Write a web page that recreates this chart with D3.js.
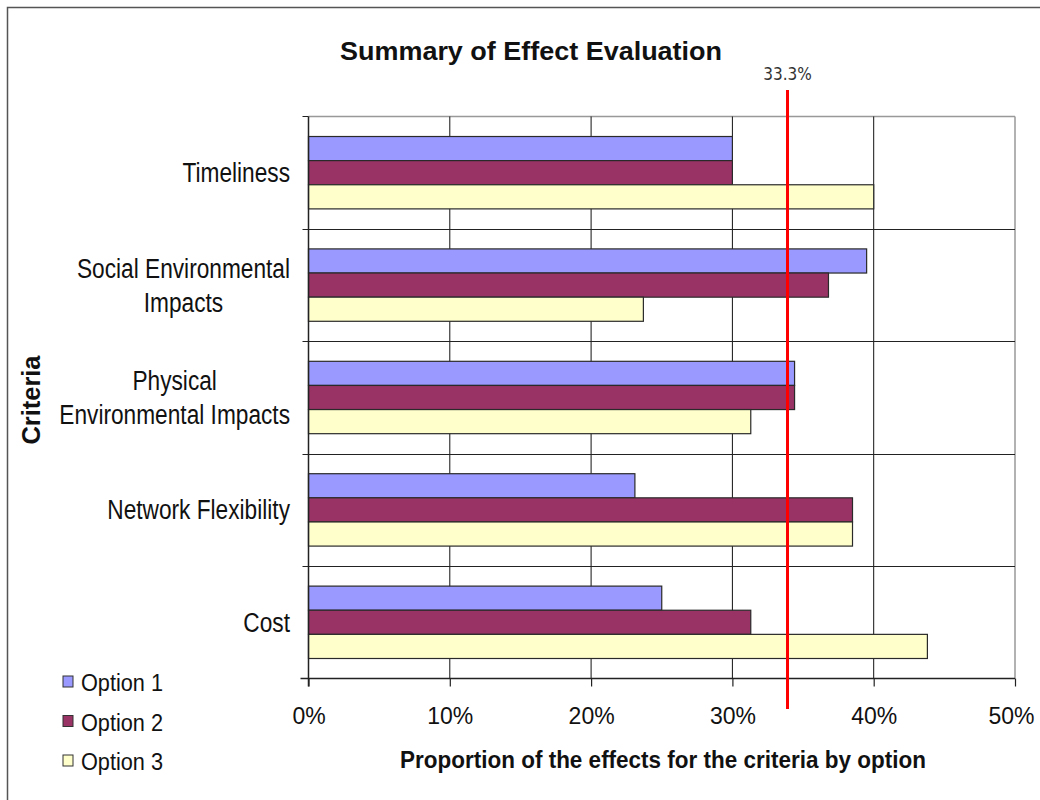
<!DOCTYPE html>
<html><head><meta charset="utf-8">
<script src="https://cdn.jsdelivr.net/npm/d3@7"></script>
<style>body{margin:0;background:#fff}svg{display:block}</style>
</head><body>
<svg id="c" width="1040" height="800"></svg>
<script>
const categories = ["Timeliness", "Social Environmental Impacts", "Physical Environmental Impacts", "Network Flexibility", "Cost"];
const categoryLines = [["Timeliness"], ["Social Environmental", "Impacts"], ["Physical", "Environmental Impacts"], ["Network Flexibility"], ["Cost"]];
const seriesNames = ["Option 1", "Option 2", "Option 3"];
const option1 = [0.300, 0.395, 0.344, 0.231, 0.250];
const option2 = [0.300, 0.368, 0.344, 0.385, 0.313];
const option3 = [0.400, 0.237, 0.313, 0.385, 0.438];
const colors = ["#9999FF", "#993366", "#FFFFCC"];
const xTicks = [0, 0.1, 0.2, 0.3, 0.4, 0.5];
const refValue = 0.339;
const refLabel = "33.3%";

const FONT = "Liberation Sans, Arial, sans-serif";
const svg = d3.select("#c");
const L = 308.5, R = 1015, T = 116.5, B = 678.5;
const x = d3.scaleLinear().domain([0, 0.5]).range([L, R]);
const y0 = d3.scaleBand().domain(categories).range([T, B]);
const bw = y0.bandwidth();
const y1 = d3.scaleBand().domain(seriesNames).range([bw * 0.178, bw * 0.822]);
const values = [option1, option2, option3];

function squeeze(sel, sx) {
  sel.each(function() {
    const w = this.getComputedTextLength();
    d3.select(this).attr("textLength", w * sx).attr("lengthAdjust", "spacingAndGlyphs");
  });
}

// outer frame
svg.append("path").attr("d", "M7.5,800 V7.5 H1040").attr("fill", "none").attr("stroke", "#555").attr("stroke-width", 1.5);

// plot border top/right grey
svg.append("line").attr("x1", L).attr("x2", R).attr("y1", T).attr("y2", T).attr("stroke", "#999").attr("stroke-width", 1.5);
svg.append("line").attr("x1", R).attr("x2", R).attr("y1", T).attr("y2", B).attr("stroke", "#999").attr("stroke-width", 1.5);

// vertical gridlines
svg.selectAll(".vg").data(xTicks.slice(1, -1)).join("line")
  .attr("x1", d => x(d)).attr("x2", d => x(d)).attr("y1", T).attr("y2", B)
  .attr("stroke", "#111").attr("stroke-width", 1);
// horizontal gridlines at category boundaries
svg.selectAll(".hg").data(categories.slice(1)).join("line")
  .attr("x1", L - 6).attr("x2", R).attr("y1", d => Math.round(y0(d)) + 0.5).attr("y2", d => Math.round(y0(d)) + 0.5)
  .attr("stroke", "#222").attr("stroke-width", 1.2);
svg.append("line").attr("x1", L - 6).attr("x2", L).attr("y1", T).attr("y2", T).attr("stroke", "#222");

// bars
const g = svg.selectAll(".cat").data(categories).join("g").attr("transform", d => `translate(0,${y0(d)})`);
g.selectAll("rect").data((d, i) => seriesNames.map((s, j) => ({s, v: values[j][i], j}))).join("rect")
  .attr("x", L).attr("y", d => y1(d.s)).attr("height", y1.bandwidth())
  .attr("width", d => x(d.v) - L)
  .attr("fill", d => colors[d.j]).attr("stroke", "#2a2a2a").attr("stroke-width", 1.2);

// axes
const xAxis = d3.axisBottom(x).tickValues(xTicks).tickFormat(d3.format(".0%")).tickSize(8);
const xa = svg.append("g").attr("transform", `translate(0,${B})`).call(xAxis);
xa.select(".domain").attr("stroke", "#222").attr("stroke-width", 1.5).attr("d", `M${L - 8},0H${R}`);
xa.selectAll(".tick line").attr("stroke", "#222").attr("stroke-width", 1.2);
xa.selectAll("text").attr("font-family", FONT).attr("font-size", 23).attr("fill", "#111")
  .attr("y", 45.5).attr("dy", null);
// keep the last label inside the page edge
xa.selectAll(".tick").filter(d => d === 0.5).select("text").attr("text-anchor", "end").attr("x", 19);
svg.append("line").attr("x1", L).attr("x2", L).attr("y1", T).attr("y2", B + 8).attr("stroke", "#222").attr("stroke-width", 1.5);

// category labels
const labelRight = 290;
const lab = svg.selectAll(".cl").data(categories).join("text")
  .attr("text-anchor", "middle").attr("font-family", FONT)
  .attr("font-size", 27).attr("fill", "#111");
lab.each(function(d, i) {
  const lines = categoryLines[i];
  const cy = y0(d) + bw / 2;
  const sel = d3.select(this);
  const ts = lines.map((ln, k) => sel.append("tspan").attr("y", cy + (k - (lines.length - 1) / 2) * 34 + 9.5).text(ln));
  const sx = 0.84;
  let maxW = 0;
  ts.forEach(t => { const w = t.node().getComputedTextLength(); maxW = Math.max(maxW, w); t.attr("textLength", w * sx).attr("lengthAdjust", "spacingAndGlyphs"); });
  const cx = labelRight - maxW * sx / 2;
  ts.forEach(t => t.attr("x", cx));
});

// ref line
svg.append("line").attr("x1", x(refValue)).attr("x2", x(refValue)).attr("y1", 90).attr("y2", 709)
  .attr("stroke", "#ff0000").attr("stroke-width", 3);
const rl = svg.append("text").attr("x", x(refValue)).attr("y", 80).attr("text-anchor", "middle")
  .attr("font-family", "DejaVu Sans, sans-serif").attr("font-size", 17).attr("fill", "#333").text(refLabel);
squeeze(rl, 0.9);

// title
svg.append("text").attr("x", 531).attr("y", 60).attr("text-anchor", "middle")
  .attr("font-family", FONT).attr("font-weight", "bold").attr("font-size", 26.5)
  .attr("fill", "#111").attr("textLength", 382).attr("lengthAdjust", "spacingAndGlyphs").text("Summary of Effect Evaluation");

// axis titles
svg.append("text").attr("x", 663).attr("y", 768).attr("text-anchor", "middle")
  .attr("font-family", FONT).attr("font-weight", "bold").attr("font-size", 24)
  .attr("fill", "#111").attr("textLength", 526).attr("lengthAdjust", "spacingAndGlyphs").text("Proportion of the effects for the criteria by option");
svg.append("text").attr("transform", "translate(40,400) rotate(-90)").attr("text-anchor", "middle")
  .attr("font-family", FONT).attr("font-weight", "bold").attr("font-size", 25)
  .attr("fill", "#111").attr("textLength", 89).attr("lengthAdjust", "spacingAndGlyphs").text("Criteria");

// legend
const lg = svg.selectAll(".lg").data(seriesNames).join("g").attr("transform", (d, i) => `translate(63,${676 + i * 39.5})`);
lg.append("rect").attr("x", 0).attr("y", 0).attr("width", 10).attr("height", 11)
  .attr("fill", (d, i) => colors[i]).attr("stroke", "#333").attr("stroke-width", 1);
const lt = lg.append("text").attr("x", 18).attr("y", 15).attr("font-family", FONT)
  .attr("font-size", 23).attr("fill", "#111").text(d => d);
lt.attr("textLength", 82).attr("lengthAdjust", "spacingAndGlyphs");
</script>
</body></html>
